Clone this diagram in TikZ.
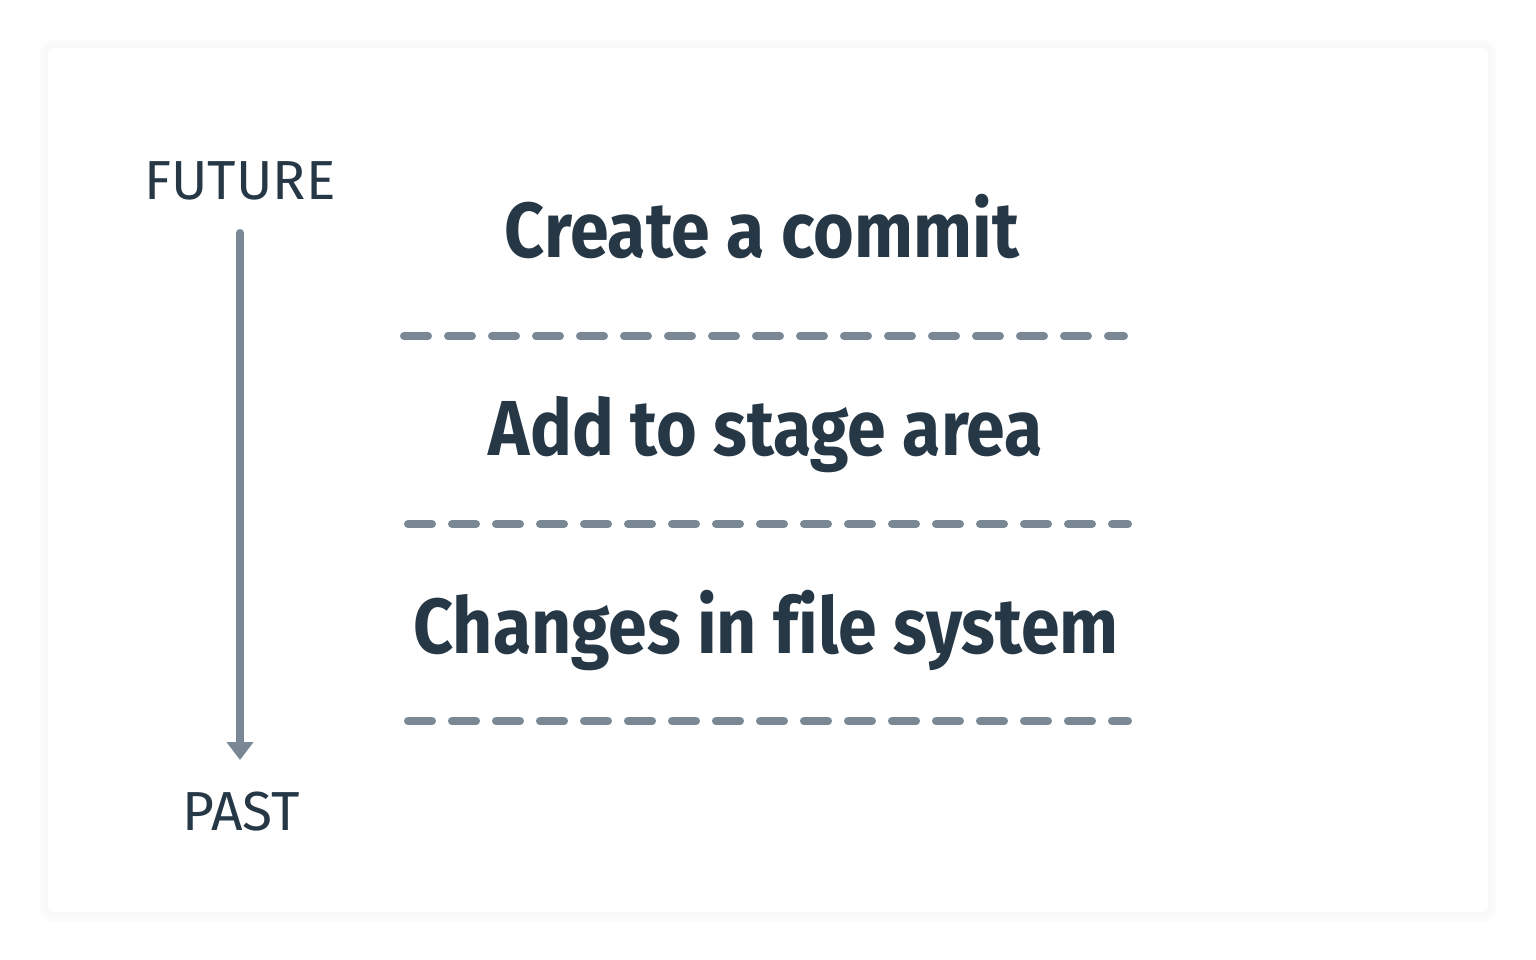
\documentclass[tikz,border=0pt]{standalone}
\usepackage{fontspec}
\setmainfont{Fira Sans}
\newfontfamily\titlefont[FakeStretch=0.895,Ligatures=NoCommon]{Fira Sans}
\usetikzlibrary{arrows.meta}
\definecolor{ink}{HTML}{263746}
\definecolor{rule}{HTML}{7A8896}
\tikzset{
  card/.style={fill=white, rounded corners=6pt},
  title/.style={text=ink, font=\titlefont\bfseries\fontsize{78}{90}\selectfont, anchor=base, inner sep=0pt},
  timelbl/.style={text=ink, font=\fontsize{55}{64}\selectfont, anchor=base, inner sep=0pt},
  divider/.style={draw=rule, line width=8pt, line cap=round, dash pattern=on 24pt off 20pt},
  timearrow/.style={draw=rule, line width=8pt, line cap=round, -{Triangle[length=18pt,width=26pt]}}
}
\begin{document}
\begin{tikzpicture}[x=1pt,y=-1pt]
  \useasboundingbox (0,0) rectangle (1536,960);
  % card shadow
  \fill[black!1.5, rounded corners=14pt] (40,40) rectangle (1496,922);
  \fill[black!2.5, rounded corners=10pt] (44,44) rectangle (1492,917);
  \fill[card] (48,48) rectangle (1488,912);
  % time axis
  \node[timelbl] (future) at (240,200) {FUTURE};
  \node[timelbl] (past) at (241,830) {PAST};
  \coordinate (axtop) at (240,233);
  \coordinate (axbot) at (240,760);
  \draw[timearrow] (axtop) -- (axbot);
  % steps
  \node[title] (commit) at (762,257) {Create a commit};
  \node[title] (stage) at (766,455) {Add to stage area};
  \node[title] (files) at (766,653) {Changes in file system};
  % dividers
  \coordinate (d1a) at (404,336); \coordinate (d1b) at (1124,336);
  \coordinate (d2a) at (408,524); \coordinate (d2b) at (1128,524);
  \coordinate (d3a) at (408,721); \coordinate (d3b) at (1128,721);
  \draw[divider] (d1a) -- (d1b);
  \draw[divider] (d2a) -- (d2b);
  \draw[divider] (d3a) -- (d3b);
\end{tikzpicture}
\end{document}
